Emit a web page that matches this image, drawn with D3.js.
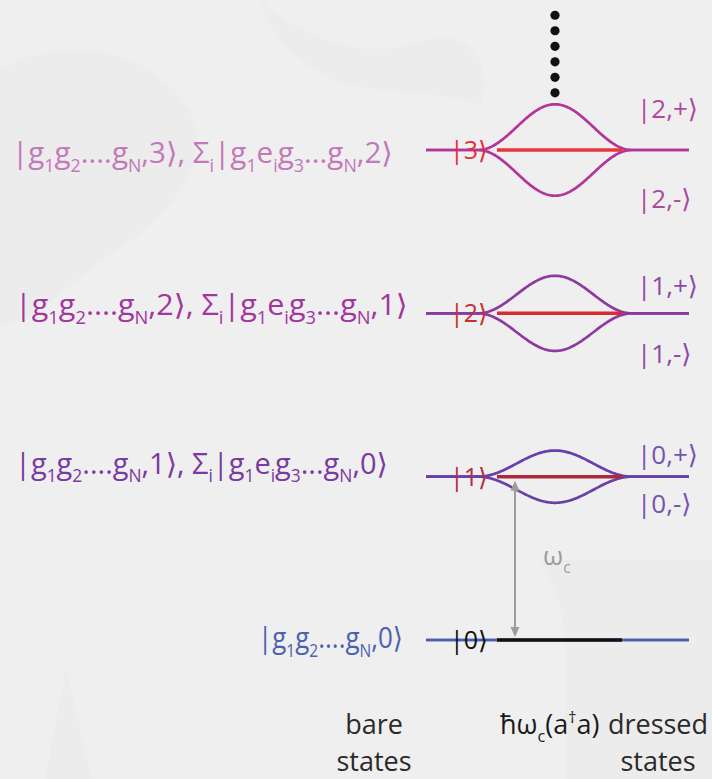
<!DOCTYPE html>
<html>
<head>
<meta charset="utf-8">
<script src="https://cdn.jsdelivr.net/npm/d3@7"></script>
<style>
  html, body { margin: 0; padding: 0; background: #efefef; }
  svg { display: block; }
  text { font-family: 'Open Sans', 'DejaVu Sans', sans-serif; }
</style>
</head>
<body>
<svg id="chart" width="712" height="779"></svg>
<script>
// Photon-number manifolds n = 0..3 (energy in units of ħω_c)
const levels = [0, 1, 2, 3];
// Vacuum Rabi splitting of each manifold (units of ħω_c), n = 1..3
const splittings = [0.16, 0.23, 0.28];
// Bare-state labels on the left (underscore = subscript)
const bareLabels = [
  "|g_1g_2....g_N,0⟩",
  "|g_1g_2....g_N,1⟩, Σ_i|g_1e_ig_3...g_N,0⟩",
  "|g_1g_2....g_N,2⟩, Σ_i|g_1e_ig_3...g_N,1⟩",
  "|g_1g_2....g_N,3⟩, Σ_i|g_1e_ig_3...g_N,2⟩"
];
// Cavity Fock-state labels
const fockLabels = ["|0⟩", "|1⟩", "|2⟩", "|3⟩"];
// Dressed-state labels [upper, lower] per split manifold
const dressedLabels = [
  ["|0,+⟩", "|0,-⟩"],
  ["|1,+⟩", "|1,-⟩"],
  ["|2,+⟩", "|2,-⟩"]
];
// Ellipsis dots continuing the ladder upward (energy units)
const ladderDots = [3.35, 3.445, 3.54, 3.635, 3.73, 3.825];

// ---- layout & style ----
const svg = d3.select("#chart");
const y = d3.scaleLinear().domain([0, 3]).range([640, 150]);
const x = d3.scaleLinear().domain([0, 1]).range([426, 689]);   // level line extent
const bumpCenter = 555, bumpHalf = 77;
const redX = [497, 622];
const lineColors = ["#4a5eae", "#6a3fa8", "#8c3aa0", "#b3359a"];
const labelColors = ["#4a62ae", "#7a3aa0", "#a2359e", "#c478b8"];
const dressedColors = ["#7454b0", "#8c4aa8", "#b048a0"];
const redColors = ["#111111", "#b0283c", "#d82c30", "#e8343a"];
const fockColors = ["#111111", "#b03040", "#c83034", "#e0303a"];
const bareTargets = [[258, 403], [15, 388], [15, 408], [12, 393]];
const bareBaseline = [8, -3, 2, 13];
const dressedDy = [[-23, 26], [-28, 40], [-42, 48]];

// faint background ornament
const bg = svg.append("g").attr("fill", "#e8e8e8");
bg.append("path").attr("d", "M0,70 C70,30 150,50 190,110 C215,160 170,215 125,245 C85,270 45,315 0,325 Z").attr("opacity", 0.35);
bg.append("path").attr("d", "M260,0 C305,40 360,60 420,42 C465,25 495,60 480,105 C440,88 380,98 330,78 C292,60 268,30 260,0 Z").attr("opacity", 0.35);
bg.append("path").attr("d", "M540,560 L712,560 L712,779 L565,779 L565,645 C565,605 550,582 540,560 Z").attr("opacity", 0.35);
bg.append("path").attr("d", "M45,779 C55,725 62,695 66,665 C71,695 80,725 92,779 Z").attr("opacity", 0.45);

function rich(sel, s, fs) {
  const parts = []; let buf = "";
  for (let i = 0; i < s.length; i++) {
    const c = s[i];
    if ((c === "_" || c === "^") && i + 1 < s.length) {
      if (buf) { parts.push({ t: buf, k: 0 }); buf = ""; }
      parts.push({ t: s[i + 1], k: c === "_" ? 1 : -1 }); i++;
    } else buf += c;
  }
  if (buf) parts.push({ t: buf, k: 0 });
  let cur = 0;
  parts.forEach(p => {
    const target = p.k === 1 ? fs * 0.3 : p.k === -1 ? -fs * 0.4 : 0;
    sel.append("tspan").attr("dy", target - cur)
      .style("font-size", (p.k ? fs * 0.6 : fs) + "px").text(p.t);
    cur = target;
  });
}

const bump = px => {
  const t = (px - bumpCenter) / bumpHalf;
  return Math.abs(t) >= 1 ? 0 : (1 + Math.cos(Math.PI * t)) / 2;
};
const xs = d3.range(x(0), x(1) + 0.5, 1);
const pxPerUnit = y(0) - y(1);

// level lines and dressed-state curves
levels.forEach(n => {
  const g = svg.append("g");
  const yl = y(n);
  const s = n > 0 ? splittings[n - 1] * pxPerUnit : 0;
  [1, -1].forEach(sign => {
    g.append("path")
      .attr("d", d3.line().x(d => d).y(d => yl - sign * s * bump(d))(xs))
      .attr("fill", "none").attr("stroke", lineColors[n])
      .attr("stroke-width", 2.7);
  });
  g.append("line").attr("x1", redX[0]).attr("x2", redX[1])
    .attr("y1", yl).attr("y2", yl)
    .attr("stroke", redColors[n]).attr("stroke-width", 3.5);
  g.append("text").attr("x", 450).attr("y", yl + 9)
    .attr("fill", fockColors[n]).style("font-size", "25px").text(fockLabels[n]);

  // bare-state label, fitted to its width
  const t = svg.append("text").attr("fill", labelColors[n]);
  rich(t, bareLabels[n], 29);
  const bb = t.node().getBBox();
  const [x0, x1] = bareTargets[n];
  const sx = (x1 - x0) / bb.width;
  t.attr("transform", `translate(${x0 - bb.x * sx},${yl + bareBaseline[n]}) scale(${sx},1)`);

  if (n > 0) {
    dressedLabels[n - 1].forEach((lab, i) => {
      svg.append("text").attr("x", 637).attr("y", yl + dressedDy[n - 1][i] + 10)
        .attr("fill", dressedColors[n - 1]).style("font-size", "26px").text(lab);
    });
  }
});

// ladder continuation dots
svg.append("g").selectAll("circle").data(ladderDots).join("circle")
  .attr("cx", bumpCenter).attr("cy", d => y(d)).attr("r", 4.6).attr("fill", "#111");

// ω_c double arrow between n = 0 and n = 1
const ax = 515, gray = "#9c9c9c";
const ya = y(1) + 4, yb = y(0) - 3;
svg.append("line").attr("x1", ax).attr("x2", ax).attr("y1", ya + 6).attr("y2", yb - 6)
  .attr("stroke", gray).attr("stroke-width", 2);
svg.append("path").attr("d", `M${ax},${ya} L${ax - 4.5},${ya + 10} L${ax + 4.5},${ya + 10} Z`).attr("fill", gray);
svg.append("path").attr("d", `M${ax},${yb} L${ax - 4.5},${yb - 10} L${ax + 4.5},${yb - 10} Z`).attr("fill", gray);
const wc = svg.append("text").attr("x", 543).attr("y", 565).attr("fill", gray);
rich(wc, "ω_c", 26);

// column captions
const cap = svg.append("g").attr("fill", "#2a2a2a").style("font-size", "27px");
const capY = [734, 771];
function twoLine(cx, l1, l2) {
  cap.append("text").attr("x", cx).attr("y", capY[0]).attr("text-anchor", "middle").text(l1);
  cap.append("text").attr("x", cx).attr("y", capY[1]).attr("text-anchor", "middle").text(l2);
}
twoLine(374, "bare", "states");
const hw = cap.append("text").attr("x", 500).attr("y", capY[0]).attr("fill", "#1a1a1a");
rich(hw, "ħω_c(a^†a)", 27);
twoLine(658, "dressed", "states");
</script>
</body>
</html>
